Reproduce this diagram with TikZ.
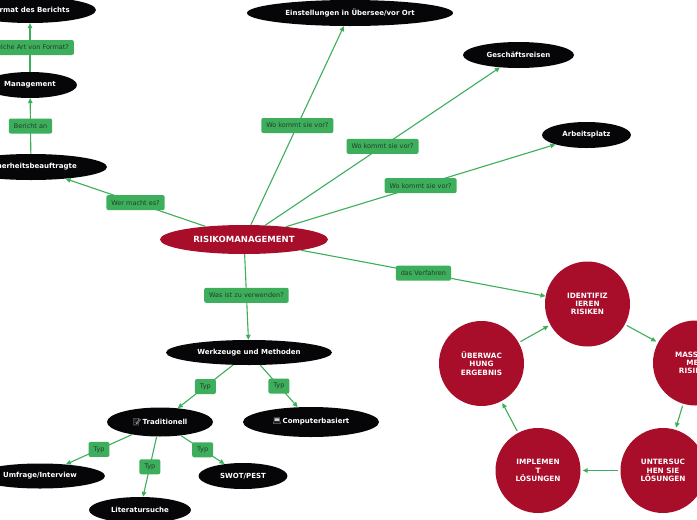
\documentclass[tikz,border=0pt]{standalone}
\usepackage{fontspec}
\setmainfont{DejaVu Sans}
\newfontfamily\emojifont{Noto Emoji}
\usetikzlibrary{shapes.geometric,arrows.meta}
\definecolor{mapred}{RGB}{168,13,42}
\definecolor{mapgreen}{RGB}{61,174,91}
\definecolor{lbltext}{RGB}{36,60,42}
\definecolor{nodeblack}{RGB}{6,6,8}
\definecolor{icongray}{RGB}{215,215,215}
\begin{document}
\begin{tikzpicture}[x=1pt,y=-1pt,
  blk/.style={ellipse, fill=nodeblack, text=white, font=\bfseries\fontsize{7}{8}\selectfont, inner sep=0pt, minimum height=26pt},
  mainnode/.style={ellipse, fill=mapred, text=white, font=\bfseries\fontsize{8.5}{9}\selectfont, inner sep=0pt},
  cyc/.style={circle, fill=mapred, text=white, font=\bfseries\fontsize{7.3}{8.2}\selectfont, align=center, inner sep=0pt, minimum size=85pt},
  lbl/.style={fill=mapgreen, text=lbltext, rounded corners=2pt, font=\fontsize{6.5}{7}\selectfont, inner xsep=5pt, inner ysep=0pt, minimum height=15pt},
  conn/.style={draw=mapgreen, line width=1.1pt, -{Triangle[length=5pt,width=4.5pt]}},
  cycconn/.style={conn, shorten >=2pt, shorten <=2pt},
]
\useasboundingbox (0,0) rectangle (697,520);
\clip (0,0) rectangle (697,520);
\fill[white] (0,0) rectangle (697,520);

% nodes
\node[blk, minimum width=132pt] (fmt) at (30,10) {Format des Berichts};
\node[blk, minimum width=94pt] (mgmt) at (30,85) {Management};
\node[blk, minimum width=152pt] (sich) at (31,167) {Sicherheitsbeauftragte};
\node[mainnode, minimum width=168pt, minimum height=29pt] (risk) at (244,239.5) {RISIKOMANAGEMENT};
\node[blk, minimum width=206pt] (einst) at (350,13) {Einstellungen in Übersee/vor Ort};
\node[blk, minimum width=111pt] (gesch) at (518.5,55) {Geschäftsreisen};
\node[blk, minimum width=89pt] (arb) at (586.5,135) {Arbeitsplatz};
\node[blk, minimum width=166pt, minimum height=25pt] (werk) at (249,352.5) {Werkzeuge und Methoden};
\node[blk, minimum width=106pt, minimum height=29pt] (trad) at (160,422) {{\emojifont\color{icongray}📝}\,Traditionell};
\node[blk, minimum width=136pt, minimum height=30pt] (comp) at (311,422) {{\emojifont\color{icongray}💻}\,Computerbasiert};
\node[blk, minimum width=130pt, minimum height=25pt] (umf) at (40,476) {Umfrage/Interview};
\node[blk, minimum width=102pt] (lit) at (140,510) {Literatursuche};
\node[blk, minimum width=89pt] (swot) at (243,476) {SWOT/PEST};

\node[cyc] (ident) at (587.5,304) {IDENTIFIZ\\IEREN\\RISIKEN};
\node[cyc] (mass) at (695.5,363) {MASSNAH\\MEN\\RISIKEN};
\node[cyc] (unters) at (663,470.5) {UNTERSUC\\HEN SIE\\LÖSUNGEN};
\node[cyc] (impl) at (538,470.5) {IMPLEMEN\\T\\LÖSUNGEN};
\node[cyc] (uberw) at (481.5,363.5) {ÜBERWAC\\HUNG\\ERGEBNIS};

% connectors
\draw[conn] (mgmt) -- node[lbl] {Welche Art von Format?} (fmt);
\draw[conn] (sich) -- node[lbl] {Bericht an} (mgmt);
\draw[conn] (risk) -- node[lbl] {Wer macht es?} (sich);
\draw[conn] (risk) -- node[lbl] {Wo kommt sie vor?} (einst);
\draw[conn] (risk) -- node[lbl] {Wo kommt sie vor?} (gesch);
\draw[conn] (risk) -- node[lbl] {Wo kommt sie vor?} (arb);
\draw[conn] (risk) -- node[lbl] {das Verfahren} (ident);
\draw[conn] (risk) -- node[lbl, pos=0.48] {Was ist zu verwenden?} (werk);
\draw[conn] (werk) -- node[lbl] {Typ} (trad);
\draw[conn] (werk) -- node[lbl] {Typ} (comp);
\draw[conn] (trad) -- node[lbl] {Typ} (umf);
\draw[conn] (trad) -- node[lbl] {Typ} (lit);
\draw[conn] (trad) -- node[lbl] {Typ} (swot);

\draw[cycconn] (ident) -- (mass);
\draw[cycconn] (mass) -- (unters);
\draw[cycconn] (unters) -- (impl);
\draw[cycconn] (impl) -- (uberw);
\draw[cycconn] (uberw) -- (ident);
\end{tikzpicture}
\end{document}
